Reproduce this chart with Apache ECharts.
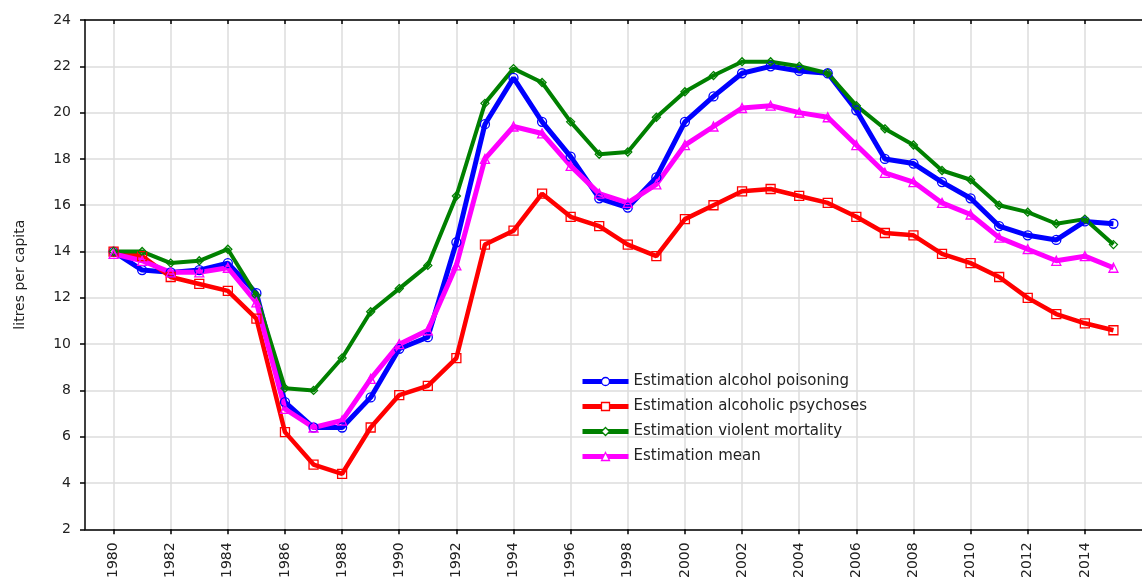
<!DOCTYPE html>
<html>
<head>
<meta charset="utf-8">
<script src="https://cdn.jsdelivr.net/npm/echarts@6/dist/echarts.min.js"></script>
<style>
html,body{margin:0;padding:0;background:#fff;}
#chart{width:1142px;height:581px;}
</style>
</head>
<body>
<div id="chart"></div>
<script>
var years=['1980','1981','1982','1983','1984','1985','1986','1987','1988','1989',
           '1990','1991','1992','1993','1994','1995','1996','1997','1998','1999',
           '2000','2001','2002','2003','2004','2005','2006','2007','2008','2009',
           '2010','2011','2012','2013','2014','2015'];
var poisoning=[14.0,13.2,13.1,13.2,13.5,12.2,7.5,6.4,6.4,7.7,
               9.8,10.3,14.4,19.5,21.5,19.6,18.1,16.3,15.9,17.2,
               19.6,20.7,21.7,22.0,21.8,21.7,20.1,18.0,17.8,17.0,
               16.3,15.1,14.7,14.5,15.3,15.2];
var psychoses=[14.0,13.8,12.9,12.6,12.3,11.1,6.2,4.8,4.4,6.4,
               7.8,8.2,9.4,14.3,14.9,16.5,15.5,15.1,14.3,13.8,
               15.4,16.0,16.6,16.7,16.4,16.1,15.5,14.8,14.7,13.9,
               13.5,12.9,12.0,11.3,10.9,10.6];
var violent=[14.0,14.0,13.5,13.6,14.1,12.1,8.1,8.0,9.4,11.4,
             12.4,13.4,16.4,20.4,21.9,21.3,19.6,18.2,18.3,19.8,
             20.9,21.6,22.2,22.2,22.0,21.7,20.3,19.3,18.6,17.5,
             17.1,16.0,15.7,15.2,15.4,14.3];
var mean=[13.9,13.6,13.1,13.1,13.3,11.8,7.2,6.4,6.7,8.5,
          10.0,10.6,13.4,18.0,19.4,19.1,17.7,16.5,16.1,16.9,
          18.6,19.4,20.2,20.3,20.0,19.8,18.6,17.4,17.0,16.1,
          15.6,14.6,14.1,13.6,13.8,13.3];
var names=['Estimation alcohol poisoning','Estimation alcoholic psychoses',
           'Estimation violent mortality','Estimation mean'];

// pad one empty year on each side so the axis runs 1979..2016
var cats=['1979'].concat(years,['2016']);
function pad(arr){return [null].concat(arr,[null]);}
function evenYear(idx,val){var y=Number(val);return y%2===0&&y>=1980&&y<=2014;}

function mk(name,data,color,symbol,size,width){
    return {
        name:name,
        type:'line',
        data:pad(data),
        symbol:symbol,
        symbolSize:size,
        showSymbol:true,
        lineStyle:{color:color,width:width},
        itemStyle:{color:'rgba(255,255,255,0)',borderColor:color,borderWidth:1.3},
        animation:false
    };
}

var myChart=echarts.init(document.getElementById('chart'));
myChart.setOption({
    backgroundColor:'#fff',
    grid:{left:85,right:-12,top:20,bottom:51},
    legend:{
        orient:'vertical',
        left:575,
        top:369,
        itemWidth:46,
        itemHeight:10,
        itemGap:10,
        data:names,
        lineStyle:{width:5},
        itemStyle:{color:'#fff',borderColor:'inherit',borderWidth:1.3},
        textStyle:{fontFamily:'DejaVu Sans',fontSize:15,color:'#222'}
    },
    xAxis:[{
        type:'category',
        data:cats,
        boundaryGap:false,
        position:'bottom',
        axisLine:{lineStyle:{color:'#000',width:1.5}},
        axisTick:{show:true,inside:false,length:5,interval:evenYear,lineStyle:{color:'#000',width:1.5}},
        axisLabel:{interval:evenYear,rotate:90,margin:13,fontFamily:'DejaVu Sans',fontSize:14,color:'#222'},
        splitLine:{show:true,interval:evenYear,lineStyle:{color:'#dcdcdc',width:1.5}}
    },{
        type:'category',
        data:cats,
        boundaryGap:false,
        position:'top',
        axisLine:{lineStyle:{color:'#000',width:1.5}},
        axisTick:{show:true,inside:true,length:4,interval:evenYear,lineStyle:{color:'#000',width:1.5}},
        axisLabel:{show:false},
        splitLine:{show:false}
    }],
    yAxis:{
        type:'value',
        min:2,
        max:24,
        interval:2,
        name:'litres per capita',
        nameLocation:'middle',
        nameGap:58,
        nameTextStyle:{fontFamily:'DejaVu Sans',fontSize:14,color:'#222'},
        axisLine:{show:true,lineStyle:{color:'#000',width:1.5}},
        axisTick:{show:true,length:5,lineStyle:{color:'#000',width:1.5}},
        axisLabel:{margin:14,fontFamily:'DejaVu Sans',fontSize:14,color:'#222'},
        splitLine:{lineStyle:{color:'#dcdcdc',width:1.5}}
    },
    series:[
        mk(names[0],poisoning,'#0000ff','circle',9,5),
        mk(names[1],psychoses,'#ff0000','rect',9,4.5),
        mk(names[2],violent,'#008000','diamond',8,4),
        mk(names[3],mean,'#ff00ff','triangle',9,5)
    ]
});
</script>
</body>
</html>
